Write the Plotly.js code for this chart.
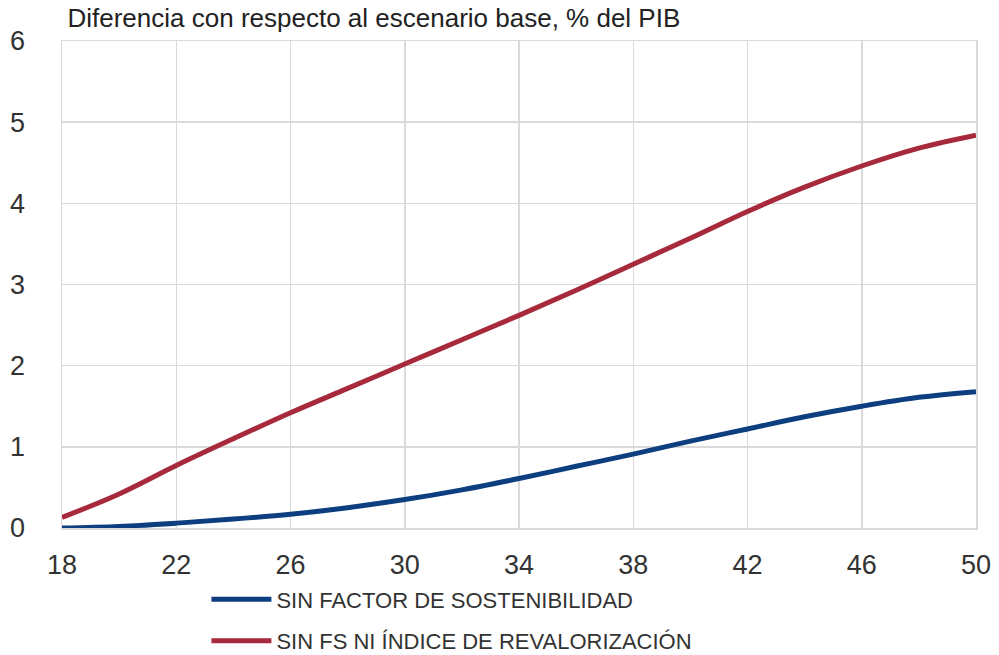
<!DOCTYPE html>
<html>
<head>
<meta charset="utf-8">
<script src="https://cdn.plot.ly/plotly-3.0.1.min.js"></script>
<style>
  html, body { margin: 0; padding: 0; background: #fff; }
  #chart { width: 999px; height: 655px; }
</style>
</head>
<body>
<div id="chart"></div>
<script>
// edad / horizonte
var years = [18, 20, 22, 24, 26, 28, 30, 32, 34, 36, 38, 40, 42, 44, 46, 48, 50];

// diferencia con respecto al escenario base, % del PIB
var sinFactor = [0.00, 0.02, 0.06, 0.11, 0.17, 0.25, 0.35, 0.47, 0.61, 0.76, 0.91, 1.07, 1.22, 1.37, 1.50, 1.61, 1.68];
var sinFsNiIndice = [0.13, 0.42, 0.77, 1.10, 1.42, 1.72, 2.02, 2.32, 2.62, 2.93, 3.25, 3.57, 3.90, 4.20, 4.46, 4.68, 4.84];

var xTicks = [18, 22, 26, 30, 34, 38, 42, 46, 50];
var yTicks = [0, 1, 2, 3, 4, 5, 6];

var gridColor = '#dadada';
var fontFam = '"Liberation Sans", Arial, sans-serif';

var data = [{
    name: 'SIN FACTOR DE SOSTENIBILIDAD',
    legendgroup: 'a',
    x: years,
    y: sinFactor,
    type: 'scatter',
    mode: 'lines',
    line: { color: '#0d3f80', width: 5, shape: 'spline' },
}, {
    name: 'SIN FS NI ÍNDICE DE REVALORIZACIÓN',
    legendgroup: 'b',
    x: years,
    y: sinFsNiIndice,
    type: 'scatter',
    mode: 'lines',
    line: { color: '#a62a3c', width: 5, shape: 'spline' },
}];

var layout = {
    width: 999,
    height: 655,
    paper_bgcolor: '#fff',
    plot_bgcolor: '#fff',
    font: { family: fontFam, color: '#333', size: 27 },
    margin: { l: 62, r: 23, t: 41, b: 127, pad: 0, autoexpand: false },
    title: {
        text: 'Diferencia con respecto al escenario base, % del PIB',
        font: { family: fontFam, size: 26, color: '#222' },
        xref: 'paper', x: 0.006, xanchor: 'left',
        yref: 'container', y: 0.972, yanchor: 'middle',
    },
    xaxis: {
        range: [18, 50],
        tickvals: xTicks,
        ticktext: xTicks.map(String),
        showgrid: true,
        gridcolor: gridColor,
        gridwidth: 1.5,
        showline: true,
        linecolor: gridColor,
        linewidth: 1.5,
        mirror: true,
        zeroline: false,
        ticks: '',
        ticklabelstandoff: 12,
        tickfont: { size: 27, color: '#333' },
    },
    yaxis: {
        range: [0, 6],
        tickvals: yTicks,
        showgrid: true,
        gridcolor: gridColor,
        gridwidth: 1.5,
        showline: true,
        linecolor: gridColor,
        linewidth: 1.5,
        mirror: true,
        zeroline: false,
        ticks: '',
        ticklabelstandoff: 30,
        tickfont: { size: 27, color: '#333' },
    },
    showlegend: true,
    legend: {
        orientation: 'v',
        x: 0.158,
        xanchor: 'left',
        yref: 'container',
        y: 0.117,
        yanchor: 'top',
        traceorder: 'grouped',
        tracegroupgap: 10,
        itemwidth: 60,
        font: { family: fontFam, size: 22, color: '#333' },
        bgcolor: 'rgba(0,0,0,0)',
    },
};

var config = { staticPlot: true, responsive: false };

Plotly.newPlot('chart', data, layout, config);
</script>
</body>
</html>
